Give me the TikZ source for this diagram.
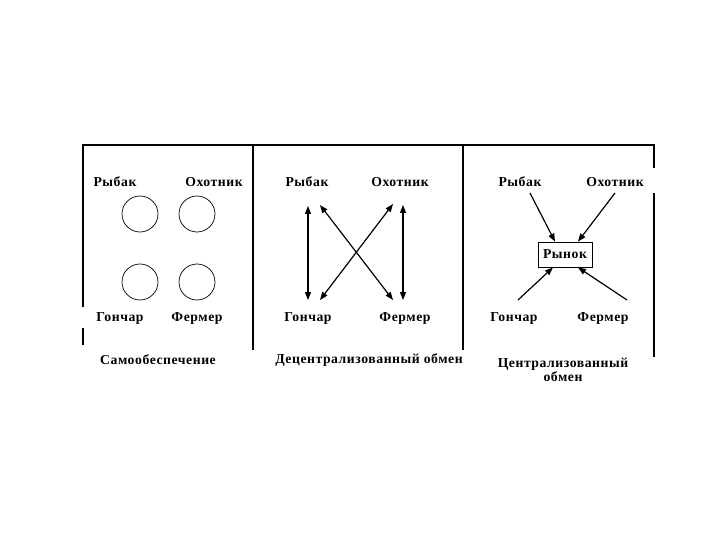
\documentclass[tikz,border=0pt]{standalone}
\usepackage{fontspec}
\setmainfont{Liberation Serif}[LetterSpace=4]
\usetikzlibrary{arrows.meta}
\begin{document}
\begin{tikzpicture}[x=1pt,y=-1pt,
  lbl/.style={font=\bfseries\fontsize{13.7}{15.5}\selectfont, inner sep=1pt},
  frame/.style={line width=1.3pt},
  circ/.style={circle, draw, line width=0.7pt, minimum size=36pt, inner sep=0pt},
  arr/.style={line width=1.2pt, -{Triangle[length=8pt,width=6pt]}},
  darr/.style={line width=1.2pt, {Triangle[length=8pt,width=6pt]}-{Triangle[length=8pt,width=6pt]}},
  mkt/.style={draw, line width=0.8pt, minimum width=54pt, minimum height=25pt, inner sep=2pt, font=\bfseries\fontsize{13.7}{15.5}\selectfont}]
\useasboundingbox (0,0) rectangle (720,540);
% frame
\draw[frame] (83,307) -- (83,145) -- (654,145) -- (654,168);
\draw[frame] (83,328) -- (83,345);
\draw[frame] (253,145) -- (253,350);
\draw[frame] (463,145) -- (463,350);
\draw[frame] (654,193) -- (654,357);
% panel 1
\node[lbl] (r1) at (115,182) {Рыбак};
\node[lbl] (o1) at (214,182) {Охотник};
\node[lbl] (g1) at (120,318) {Гончар};
\node[lbl] (f1) at (197,318) {Фермер};
\node[circ] (c1) at (140,214) {};
\node[circ] (c2) at (197,214) {};
\node[circ] (c3) at (140,282) {};
\node[circ] (c4) at (197,282) {};
\node[lbl] (t1) at (158,360) {Самообеспечение};
% panel 2
\node[lbl] (r2) at (307,182) {Рыбак};
\node[lbl] (o2) at (400,182) {Охотник};
\node[lbl] (g2) at (308,318) {Гончар};
\node[lbl] (f2) at (405,318) {Фермер};
\coordinate (a1) at (308,206);
\coordinate (a2) at (308,300);
\coordinate (b1) at (320,205);
\coordinate (b2) at (393,300);
\coordinate (d1) at (393,204);
\coordinate (d2) at (320,300);
\coordinate (e1) at (403,205);
\coordinate (e2) at (403,300);
\draw[darr] (a1) -- (a2);
\draw[darr] (b1) -- (b2);
\draw[darr] (d1) -- (d2);
\draw[darr] (e1) -- (e2);
\node[lbl] (t2) at (369,360) {Децентрализованный обмен};
% panel 3
\node[lbl] (r3) at (520,182) {Рыбак};
\node[lbl] (o3) at (615,182) {Охотник};
\node[lbl] (g3) at (514,318) {Гончар};
\node[lbl] (f3) at (603,318) {Фермер};
\node[mkt] (m) at (565,254.5) {Рынок};
\coordinate (p1) at (530,193);
\coordinate (p2) at (615,193);
\coordinate (p3) at (518,300);
\coordinate (p4) at (627,300);
\draw[arr] (p1) -- (m.north west -| 555,0);
\draw[arr] (p2) -- (m.north west -| 578,0);
\draw[arr] (p3) -- (m.south west -| 553,0);
\draw[arr] (p4) -- (m.south west -| 578,0);
\node[lbl, align=center] (t3) at (563,370) {Централизованный\\[-1pt]обмен};
\end{tikzpicture}
\end{document}
